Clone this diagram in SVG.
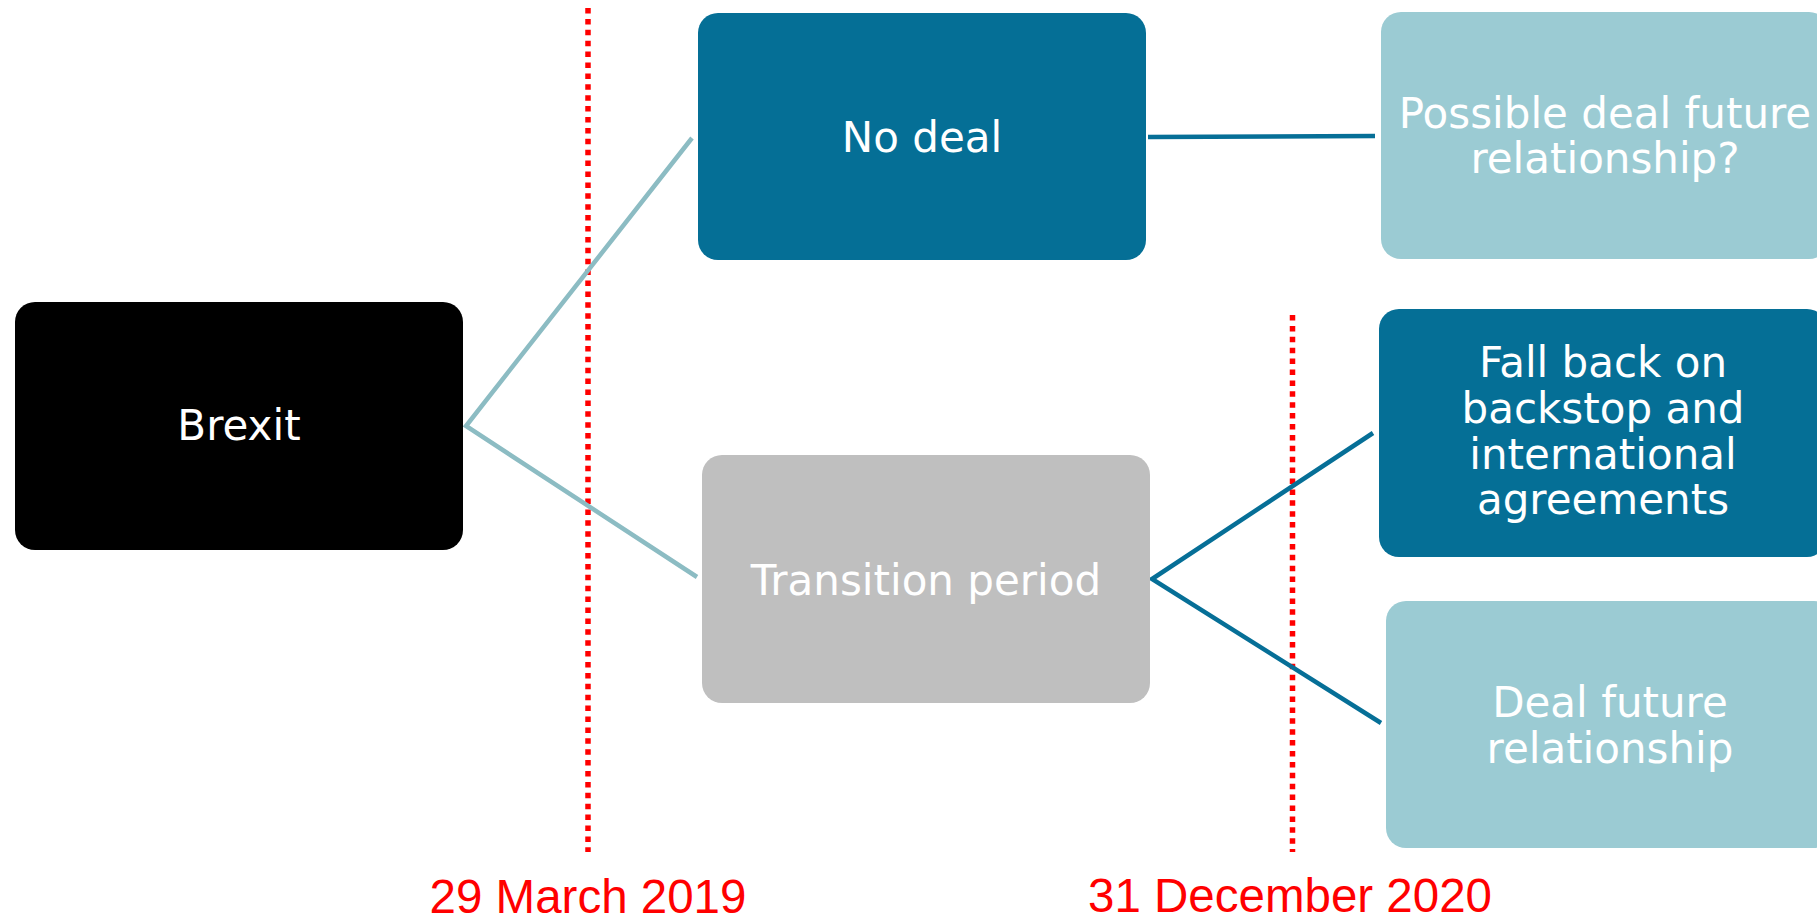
<svg xmlns="http://www.w3.org/2000/svg" width="1817" height="917" viewBox="0 0 1817 917">
<style>
.box{stroke:none}
.lbl{font-family:"DejaVu Sans",Verdana,sans-serif;font-size:42px;fill:#ffffff;text-anchor:middle}
.date{font-family:"Liberation Sans",Arial,sans-serif;font-size:47.5px;fill:#ff0000;text-anchor:middle}
.c-light{stroke:#8cbcc3;stroke-width:4.5;fill:none}
.c-dark{stroke:#066f97;stroke-width:4.5;fill:none}
.redline{stroke:#ff0000;stroke-width:5.5;stroke-dasharray:5.5 5.4;fill:none}
</style>
<rect width="1817" height="917" fill="#ffffff"/>
<g id="timelines">
<line class="redline" x1="588" y1="8" x2="588" y2="852"/>
<line class="redline" x1="1292.5" y1="315" x2="1292.5" y2="852"/>
</g>
<g id="connectors">
<polyline class="c-light" points="692,138 466,426 697,577"/>
<line class="c-dark" x1="1148" y1="137" x2="1375" y2="136"/>
<polyline class="c-dark" points="1373,433 1152,579 1381,723"/>
</g>
<g id="brexit">
<rect class="box" x="15" y="302" width="448" height="248" rx="20" fill="#000000"/>
<text class="lbl" x="239" y="440">Brexit</text>
</g>
<g id="no-deal">
<rect class="box" x="698" y="13" width="448" height="247" rx="20" fill="#056f96"/>
<text class="lbl" x="922" y="152">No deal</text>
</g>
<g id="transition">
<rect class="box" x="702" y="455" width="448" height="248" rx="20" fill="#bfbfbf"/>
<text class="lbl" x="926" y="595">Transition period</text>
</g>
<g id="possible-deal">
<rect class="box" x="1381" y="12" width="448" height="247" rx="20" fill="#9bcbd3"/>
<text class="lbl" x="1605" y="128">Possible deal future</text>
<text class="lbl" x="1605" y="173">relationship?</text>
</g>
<g id="fall-back">
<rect class="box" x="1379" y="309" width="448" height="248" rx="20" fill="#056f96"/>
<text class="lbl" x="1603" y="377">Fall back on</text>
<text class="lbl" x="1603" y="423">backstop and</text>
<text class="lbl" x="1603" y="469">international</text>
<text class="lbl" x="1603" y="514">agreements</text>
</g>
<g id="deal-future">
<rect class="box" x="1386" y="601" width="448" height="247" rx="20" fill="#9bcbd3"/>
<text class="lbl" x="1610" y="717">Deal future</text>
<text class="lbl" x="1610" y="763">relationship</text>
</g>
<g id="dates">
<text class="date" x="588" y="913">29 March 2019</text>
<text class="date" x="1290" y="912">31 December 2020</text>
</g>
</svg>
